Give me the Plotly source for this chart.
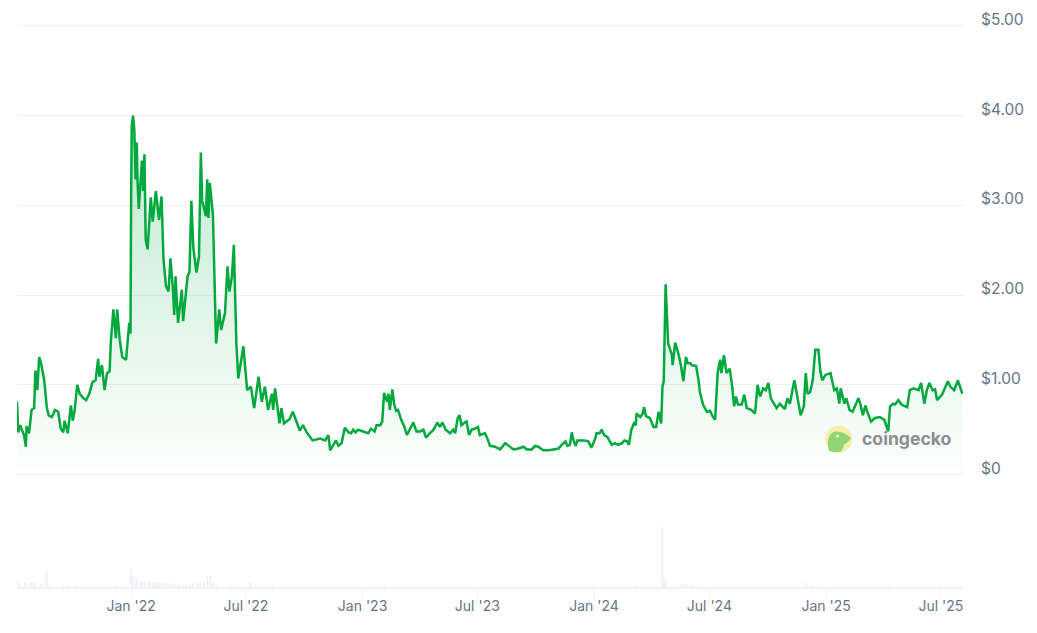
import pandas as pd
import plotly.graph_objects as go

# price: days since the first point, USD
start_date = pd.Timestamp("2021-07-05")
end_date = pd.Timestamp("2025-08-05")

days_2021 = [0, 2, 5, 9, 11, 14, 15, 19, 23, 27, 29, 32, 35, 38, 43, 47, 50, 55, 60, 65, 69, 73, 75, 80, 85, 88, 91,
             95, 99, 105, 109, 114, 119, 124, 128, 130, 134, 138, 142, 146, 148, 152, 156, 158, 162, 166, 172, 177, 179]
price_2021 = [.81, .47, .55, .47, .44, .31, .54, .46, .72, .74, 1.16, .94, 1.31, 1.24, 1.05, .75, .66, .64, .72, .70, .51, .47, .60, .46, .77, .60, .72,
              1.00, .90, .85, .83, .90, 1.03, 1.05, 1.29, 1.09, 1.22, .94, 1.13, 1.15, 1.48, 1.84, 1.52, 1.84, 1.50, 1.31, 1.28, 1.69, 1.57]

days_2022 = [180, 181, 183, 185, 187, 189, 190, 192, 197, 199, 201, 203, 206, 211, 214, 219, 224, 228, 231, 235, 239, 242, 246, 248, 250, 254,
             260, 262, 269, 272, 275, 278, 283, 287, 290, 292, 298, 300, 302, 304, 309, 311, 314, 319, 322, 328, 332, 335, 339, 342, 343, 346, 349,
             353, 357, 363, 369, 374, 381, 386, 391, 396, 402, 404, 407, 414, 417, 421, 430, 435, 442, 446, 451, 457, 466, 478, 486, 491, 494,
             499, 503, 507, 512, 517, 523, 527, 530, 534, 538]
price_2022 = [3.07, 3.89, 4.00, 3.85, 3.29, 3.70, 3.29, 2.96, 3.50, 3.16, 3.57, 2.62, 2.51, 3.09, 2.82, 3.16, 2.84, 3.10, 2.40, 2.10, 2.04, 2.41, 2.06, 1.78, 2.21, 1.69,
              2.06, 1.71, 2.21, 2.26, 3.05, 2.54, 2.25, 2.43, 3.59, 3.05, 2.88, 3.29, 2.86, 3.25, 2.90, 2.28, 1.46, 1.84, 1.61, 1.80, 2.32, 2.04, 2.21, 2.56, 2.19, 1.46, 1.07,
              1.26, 1.43, .94, .98, .74, 1.09, .81, .98, .72, .90, .72, .96, .57, .74, .57, .62, .70, .55, .49, .55, .47, .38, .40, .38, .44, .27,
              .33, .38, .32, .35, .52, .47, .46, .50, .47, .50]

days_2023 = [546, 554, 558, 564, 567, 573, 576, 579, 584, 586, 588, 592, 595, 598, 601, 606, 611, 615, 620, 625, 630, 636, 641, 645, 651, 657, 663, 667,
             671, 676, 683, 688, 691, 695, 698, 701, 706, 709, 713, 717, 722, 727, 730, 738, 742, 746, 754, 762, 770, 775, 783, 791, 799, 804, 812, 817, 822,
             830, 838, 846, 854, 859, 865, 868, 872, 875, 877, 881, 884, 888, 895, 901, 906]
price_2023 = [.48, .46, .51, .48, .55, .55, .59, .91, .81, .90, .72, .95, .78, .71, .72, .61, .53, .44, .51, .58, .48, .48, .50, .41, .46, .50, .58, .53,
              .58, .50, .46, .50, .46, .63, .66, .55, .58, .59, .44, .50, .51, .53, .44, .46, .40, .32, .31, .28, .35, .32, .28, .29, .31, .28, .28, .32, .31,
              .27, .27, .28, .29, .33, .37, .32, .33, .47, .40, .32, .38, .38, .38, .37, .30]

days_2024 = [912, 914, 919, 922, 926, 931, 938, 943, 948, 954, 958, 962, 965, 969, 973, 976, 977, 983, 987, 989, 992, 998, 1004, 1008, 1012, 1016, 1018, 1020,
             1023, 1025, 1027, 1033, 1034, 1038, 1043, 1047, 1051, 1055, 1058, 1062, 1064, 1071, 1075, 1077, 1082, 1088, 1093, 1097, 1101, 1105, 1109, 1111, 1115, 1119,
             1124, 1128, 1131, 1134, 1137, 1143, 1147, 1151, 1158, 1164, 1168, 1172, 1177, 1181, 1185, 1189, 1198, 1203, 1211, 1215, 1219, 1226, 1231, 1236, 1241, 1244,
             1247, 1251, 1255, 1259, 1264, 1267, 1270, 1275]
price_2024 = [.40, .46, .46, .50, .44, .42, .33, .35, .33, .35, .38, .37, .33, .50, .57, .55, .68, .64, .68, .75, .65, .63, .53, .53, .70, .57, .98, 1.04,
              2.12, 1.76, 1.46, 1.33, 1.22, 1.47, 1.35, 1.22, 1.04, 1.31, 1.24, 1.24, 1.22, 1.21, 1.05, .92, .78, .70, .71, .65, .61, 1.13, 1.28, 1.13, 1.33, 1.13,
              1.18, .98, .76, .87, .78, .78, .89, .74, .72, .68, 1.00, .87, .96, .94, 1.02, .85, .74, .79, .73, .85, .79, 1.05, .85, .66, .76, 1.13,
              .90, .92, 1.05, 1.39, 1.39, 1.15, 1.05, 1.11]

days_2025 = [1283, 1289, 1293, 1297, 1299, 1305, 1308, 1313, 1318, 1327, 1330, 1334, 1338, 1341, 1347, 1353, 1361, 1368, 1373, 1374, 1377, 1382, 1385, 1390, 1395,
             1404, 1408, 1414, 1422, 1426, 1431, 1435, 1439, 1444, 1448, 1451, 1459, 1468, 1472, 1478, 1484, 1491]
price_2025 = [1.13, .94, .96, .79, .96, .79, .85, .72, .70, .85, .79, .66, .77, .70, .59, .63, .64, .61, .50, .48, .76, .79, .78, .83, .78,
              .75, .94, .96, .94, 1.02, .79, .94, 1.02, .94, .95, .83, .89, 1.04, .98, .94, 1.05, .90]

# volume strip, relative to the May '24 spike
vol_days = [1, 5, 14, 23, 28, 39, 47, 52, 73, 81, 92, 157, 180, 183, 189, 194, 198, 202, 207, 211, 215, 219, 223, 227, 231, 236, 241, 245, 249,
            255, 262, 268, 273, 278, 284, 289, 295, 300, 305, 310, 316, 336, 368, 404, 580, 977, 1018, 1021, 1024, 1048, 1052, 1056, 1062, 1067, 1245, 1256, 1298, 1377]
vol_values = [.11, .06, .08, .08, .07, .06, .25, .05, .03, .03, .03, .03, .31, .17, .14, .08, .09, .10, .08, .09, .08, .08, .07, .07, .07, .06, .06, .05, .04,
              .04, .04, .04, .05, .06, .06, .08, .09, .18, .19, .08, .04, .03, .08, .03, .03, .03, 1.0, .15, .12, .05, .05, .04, .03, .03, .07, .03, .03, .05]

tick_dates = ["2022-01-01", "2022-07-01", "2023-01-01", "2023-07-01", "2024-01-01", "2024-07-01", "2025-01-01", "2025-07-01"]
tick_labels = ["Jan '22", "Jul '22", "Jan '23", "Jul '23", "Jan '24", "Jul '24", "Jan '25", "Jul '25"]
price_ticks = [0, 1, 2, 3, 4, 5]
price_labels = ["$0", "$1.00", "$2.00", "$3.00", "$4.00", "$5.00"]

days = days_2021 + days_2022 + days_2023 + days_2024 + days_2025
prices = price_2021 + price_2022 + price_2023 + price_2024 + price_2025
dates = start_date + pd.to_timedelta(days, unit="D")
vol_dates = start_date + pd.to_timedelta(vol_days, unit="D")

GREEN = "#00a83e"
GRID = "#eff2f5"
TEXT = "#677489"
FONT = "Inter"

fig = go.Figure()
fig.add_trace(go.Bar(x=vol_dates, y=vol_values, yaxis="y2", width=3 * 86400000,
                     marker=dict(color="#f1f3f7", line=dict(width=0))))
fig.add_trace(go.Scatter(x=dates, y=prices, mode="lines", line=dict(color=GREEN, width=2.5),
                         fill="tozeroy",
                         fillgradient=dict(type="vertical", start=0, stop=4,
                                           colorscale=[[0, "rgba(0,168,62,0.01)"], [1, "rgba(0,168,62,0.25)"]])))


# logo goes on in page pixels
def px(x):
    return (x - 17) / 946


def py(y):
    return (587 - y) / 587


def pt(x, y):
    return f"{px(x):.5f},{py(y):.5f}"


head_path = ("M " + pt(829, 451) + " C " + pt(827, 443) + " " + pt(828, 436) + " " + pt(832, 433)
             + " C " + pt(837, 430) + " " + pt(845, 432) + " " + pt(851, 438)
             + " C " + pt(849, 442) + " " + pt(846, 443) + " " + pt(844, 445)
             + " C " + pt(843, 448) + " " + pt(842, 451) + " " + pt(840, 452)
             + " C " + pt(836, 452) + " " + pt(832, 452) + " " + pt(829, 451) + " Z")

# price labels sit a little above their gridlines
price_notes = [dict(text=label, xref="paper", yref="y", x=px(979), y=value, yshift=6.5, xanchor="left", yanchor="middle",
                    showarrow=False, font=dict(family=FONT, size=15.5, color=TEXT))
               for value, label in zip(price_ticks, price_labels)]

fig.update_layout(
    width=1037, height=633,
    margin=dict(l=17, r=74, t=0, b=46, autoexpand=False),
    paper_bgcolor="white", plot_bgcolor="white",
    showlegend=False,
    font=dict(family=FONT, color=TEXT),
    xaxis=dict(type="date", range=[start_date, end_date], anchor="y2", automargin=False,
               tickvals=tick_dates, ticktext=tick_labels, tickfont=dict(size=14, color=TEXT),
               ticks="outside", ticklen=10, tickcolor=GRID, tickwidth=1, ticklabelstandoff=-5,
               showgrid=False, showline=True, linecolor=GRID, linewidth=2),
    yaxis=dict(domain=[0.18705, 0.96031], range=[-0.03, 5.03], side="right", automargin=False,
               tickvals=price_ticks, showticklabels=False,
               gridcolor=GRID, gridwidth=1, zeroline=False, showline=False),
    yaxis2=dict(domain=[0, 0.2], range=[0, 1.96], visible=False),
    shapes=[
        # the $0 gridline does not show through the fill, so it goes on top
        dict(type="line", xref="paper", yref="y", x0=0, x1=1, y0=0, y1=0, line=dict(color="#e9edf1", width=1), layer="above"),
        dict(type="circle", xref="paper", yref="paper", x0=px(825.3), x1=px(852.3), y0=py(452.8), y1=py(425.8),
             fillcolor="#f7efa9", line=dict(width=0), layer="above"),
        dict(type="path", xref="paper", yref="paper", path=head_path, fillcolor="#90d572", line=dict(width=0), layer="above"),
        dict(type="circle", xref="paper", yref="paper", x0=px(836), x1=px(839), y0=py(437.5), y1=py(434.5),
             fillcolor="#f4f4ef", line=dict(width=0), layer="above"),
    ],
    annotations=price_notes + [dict(text="<b>coingecko</b>", xref="paper", yref="paper", x=px(860), y=py(438.5), xanchor="left", yanchor="middle",
                                    showarrow=False, font=dict(family=FONT, size=17.6, color="#8b8e92"))],
)

fig.write_html("out.html", config=dict(displayModeBar=False), post_script="document.body.style.margin='0';")
